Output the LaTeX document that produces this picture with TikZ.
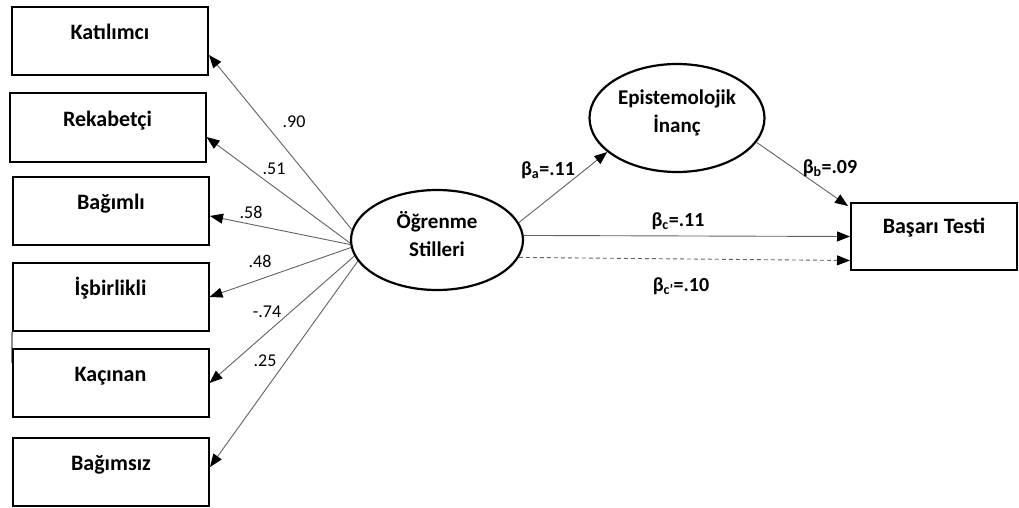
\documentclass[tikz,border=0pt]{standalone}
\usepackage{fontspec}
\setmainfont{Carlito}
\usetikzlibrary{arrows.meta,shapes.geometric}

\tikzset{
  obsbox/.style={draw, line width=2pt, minimum width=196pt, minimum height=68pt,
    font=\bfseries\fontsize{22}{26}\selectfont, text height=14pt, text depth=17pt},
  latent/.style={draw, ellipse, line width=2.2pt, align=center, inner sep=0pt,
    font=\bfseries\fontsize{21}{28}\selectfont},
  link/.style={draw=black!62, line width=0.9pt,
    -{Triangle[length=13pt,width=10pt,color=black]}},
  coef/.style={font=\fontsize{18}{20}\selectfont},
  betalbl/.style={font=\bfseries\fontsize{20}{22}\selectfont}
}

\begin{document}
\begin{tikzpicture}[x=1pt,y=-1pt]
  \useasboundingbox (0,0) rectangle (1019,508);

  % stray edge at the left
  \draw[black!45, line width=1.2pt] (12,332) -- (12,363);

  % learning style boxes
  \node[obsbox] (kat) at (110,41) {Katılımcı};
  \node[obsbox] (rek) at (107.5,127.5) {Rekabetçi};
  \node[obsbox] (bag) at (111,211) {Bağımlı};
  \node[obsbox] (isb) at (110.5,297) {İşbirlikli};
  \node[obsbox] (kac) at (110.5,383) {Kaçınan};
  \node[obsbox] (bgs) at (111,472) {Bağımsız};

  % latent variables and outcome
  \node[latent, minimum width=172pt, minimum height=100pt, text depth=12pt] (ogr) at (437,240) {Öğrenme\\Stilleri};
  \node[latent, minimum width=175pt, minimum height=108pt, text depth=13pt] (epi) at (677,118) {Epistemolojik\\İnanç};
  \node[obsbox, minimum width=166pt, minimum height=67pt, text depth=20pt] (bas) at (934,236.5) {Başarı Testi};

  % loadings
  \draw[link] (ogr.173) -- ([yshift=-14pt]kat.east);
  \draw[link] (ogr.182) -- ([yshift=-9.5pt]rek.east);
  \draw[link] (ogr.183.5) -- ([yshift=-5pt]bag.east);
  \draw[link] (ogr.185) -- (isb.east);
  \draw[link] (ogr.191) -- (kac.east);
  \draw[link] (ogr.195) -- ([yshift=5pt]bgs.east);

  \node[coef] (l90) at (294,122) {.90};
  \node[coef] (l51) at (274,169) {.51};
  \node[coef] (l58) at (251,212) {.58};
  \node[coef] (l48) at (260,261) {.48};
  \node[coef] (l74) at (267,312) {-.74};
  \node[coef] (l25) at (265,361) {.25};

  % mediation paths
  \draw[link] (ogr.12) -- (epi.206);
  \draw[link] (epi.343) -- ([xshift=-2pt,yshift=-4pt]bas.north west);
  \draw[link] (ogr.3) -- (bas.west);
  \draw[link, dash pattern=on 4pt off 3pt] (ogr.348) -- ([yshift=-24pt]bas.west);

  \node[betalbl] (ba) at (548,170) {β\textsubscript{a}=.11};
  \node[betalbl] (bb) at (830,168) {β\textsubscript{b}=.09};
  \node[betalbl] (bc) at (678,221) {β\textsubscript{c}=.11};
  \node[betalbl] (bcp) at (681,286) {β\textsubscript{c'}=.10};
\end{tikzpicture}
\end{document}
